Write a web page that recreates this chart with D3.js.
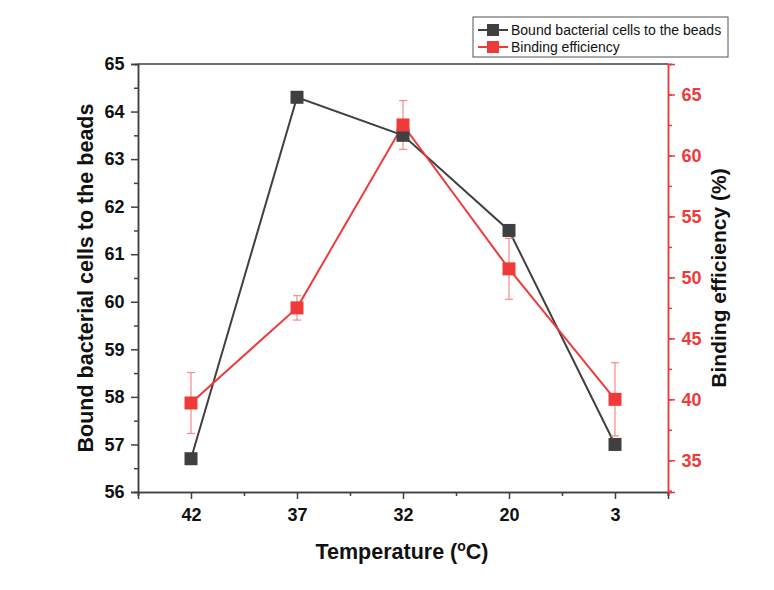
<!DOCTYPE html>
<html>
<head>
<meta charset="utf-8">
<script src="https://cdn.jsdelivr.net/npm/d3@7/dist/d3.min.js"></script>
<style>
  body { margin: 0; background: #fff; }
  svg text { font-family: "Liberation Sans", Arial, sans-serif; }
</style>
</head>
<body>
<svg width="774" height="590"></svg>
<script>
var temperatures = ["42", "37", "32", "20", "3"];
var boundCells = [56.7, 64.3, 63.5, 61.5, 57.0];
var efficiency = [39.7, 47.5, 62.5, 50.7, 40.0];
var efficiencyErr = [2.5, 1.0, 2.0, 2.5, 3.0];
var leftTicks = [56, 57, 58, 59, 60, 61, 62, 63, 64, 65];
var rightTicks = [35, 40, 45, 50, 55, 60, 65];

var svg = d3.select("svg"),
    plotL = 138, plotR = 668, plotT = 64, plotB = 492,
    black = "#404040", red = "#f03a3a";

var x = d3.scaleLinear().domain([0.5, 5.5]).range([plotL, plotR]);
var yL = d3.scaleLinear().domain([56, 65]).range([plotB, plotT]);
var yR = d3.scaleLinear().domain([32.4, 67.5]).range([plotB, plotT]);

// frame
svg.append("line").attr("x1", plotL).attr("x2", plotR).attr("y1", plotT).attr("y2", plotT)
    .attr("stroke", black).attr("stroke-width", 1.5);

// x axis
var gx = svg.append("g").attr("transform", "translate(0," + plotB + ")");
gx.call(d3.axisBottom(x).tickValues([0.5, 1.5, 2.5, 3.5, 4.5, 5.5]).tickSize(4).tickFormat(""));
gx.append("g").call(d3.axisBottom(x).tickValues([1, 2, 3, 4, 5]).tickSize(7)
    .tickFormat(function (d) { return temperatures[d - 1]; }));
gx.selectAll("path").attr("stroke", black).attr("stroke-width", 1.5);
gx.selectAll("line").attr("stroke", black).attr("stroke-width", 1.5);
gx.selectAll("text").attr("fill", "#111").attr("font-size", 18).attr("font-weight", "bold").attr("dy", "1.05em")
    .style("font-family", "Liberation Sans, Arial, sans-serif");

// left axis
var gl = svg.append("g").attr("transform", "translate(" + plotL + ",0)");
gl.call(d3.axisLeft(yL).tickValues(d3.range(56.5, 65, 1)).tickSize(4).tickFormat(""));
gl.append("g").call(d3.axisLeft(yL).tickValues(leftTicks).tickSize(7).tickFormat(d3.format("d")));
gl.selectAll("path").attr("stroke", black).attr("stroke-width", 1.5);
gl.selectAll("line").attr("stroke", black).attr("stroke-width", 1.5);
gl.selectAll("text").attr("fill", "#111").attr("font-size", 18).attr("font-weight", "bold").attr("dx", "-0.2em")
    .style("font-family", "Liberation Sans, Arial, sans-serif");

// right axis
var gr = svg.append("g").attr("transform", "translate(" + plotR + ",0)");
gr.call(d3.axisRight(yR).tickValues(d3.range(32.5, 67.6, 2.5)).tickSize(4).tickFormat(""));
gr.append("g").call(d3.axisRight(yR).tickValues(rightTicks).tickSize(7).tickFormat(d3.format("d")));
gr.selectAll("path").attr("stroke", red).attr("stroke-width", 1.5);
gr.selectAll("line").attr("stroke", red).attr("stroke-width", 1.5);
gr.selectAll("text").attr("fill", red).attr("font-size", 18).attr("font-weight", "bold").attr("dx", "0.2em")
    .style("font-family", "Liberation Sans, Arial, sans-serif");

// axis titles
svg.append("text").attr("transform", "translate(93,278) rotate(-90)").attr("text-anchor", "middle")
    .attr("font-size", 21.5).attr("font-weight", "bold").attr("fill", "#111")
    .text("Bound bacterial cells to the beads");
svg.append("text").attr("transform", "translate(726,278) rotate(-90)").attr("text-anchor", "middle")
    .attr("font-size", 21).attr("font-weight", "bold").attr("fill", "#111")
    .text("Binding efficiency (%)");
var xt = svg.append("text").attr("x", 402).attr("y", 559).attr("text-anchor", "middle")
    .attr("font-size", 21.5).attr("font-weight", "bold").attr("fill", "#111");
xt.append("tspan").text("Temperature (");
xt.append("tspan").attr("font-size", 14).attr("dy", -8).text("o");
xt.append("tspan").attr("dy", 8).text("C)");

// black series
var idx = d3.range(temperatures.length);
svg.append("path").datum(idx)
    .attr("d", d3.line().x(function (i) { return x(i + 1); }).y(function (i) { return yL(boundCells[i]); }))
    .attr("fill", "none").attr("stroke", black).attr("stroke-width", 2);

// red error bars
var eb = svg.append("g").attr("stroke", "#f58a8a").attr("stroke-width", 1.2);
idx.forEach(function (i) {
  var cx = x(i + 1), y0 = yR(efficiency[i] - efficiencyErr[i]), y1 = yR(efficiency[i] + efficiencyErr[i]);
  eb.append("line").attr("x1", cx).attr("x2", cx).attr("y1", y0).attr("y2", y1);
  eb.append("line").attr("x1", cx - 4).attr("x2", cx + 4).attr("y1", y0).attr("y2", y0);
  eb.append("line").attr("x1", cx - 4).attr("x2", cx + 4).attr("y1", y1).attr("y2", y1);
});

svg.append("path").datum(idx)
    .attr("d", d3.line().x(function (i) { return x(i + 1); }).y(function (i) { return yR(efficiency[i]); }))
    .attr("fill", "none").attr("stroke", red).attr("stroke-width", 2);

svg.selectAll("rect.bk").data(idx).enter().append("rect").attr("class", "bk")
    .attr("x", function (i) { return x(i + 1) - 6.5; }).attr("y", function (i) { return yL(boundCells[i]) - 6.5; })
    .attr("width", 13).attr("height", 13).attr("fill", black);
svg.selectAll("rect.rd").data(idx).enter().append("rect").attr("class", "rd")
    .attr("x", function (i) { return x(i + 1) - 6.5; }).attr("y", function (i) { return yR(efficiency[i]) - 6.5; })
    .attr("width", 13).attr("height", 13).attr("fill", red);

// legend
var lg = svg.append("g").attr("transform", "translate(473,17)");
lg.append("rect").attr("width", 255).attr("height", 40).attr("fill", "#fff").attr("stroke", "#555").attr("stroke-width", 1);
[["Bound bacterial cells to the beads", black], ["Binding efficiency", red]].forEach(function (d, k) {
  var yy = 13 + k * 17;
  lg.append("line").attr("x1", 5).attr("x2", 35).attr("y1", yy).attr("y2", yy).attr("stroke", d[1]).attr("stroke-width", 2);
  lg.append("rect").attr("x", 14).attr("y", yy - 6).attr("width", 12).attr("height", 12).attr("fill", d[1]);
  lg.append("text").attr("x", 38).attr("y", yy + 5).attr("font-size", 14).attr("fill", "#111").text(d[0]);
});
</script>
</body>
</html>
